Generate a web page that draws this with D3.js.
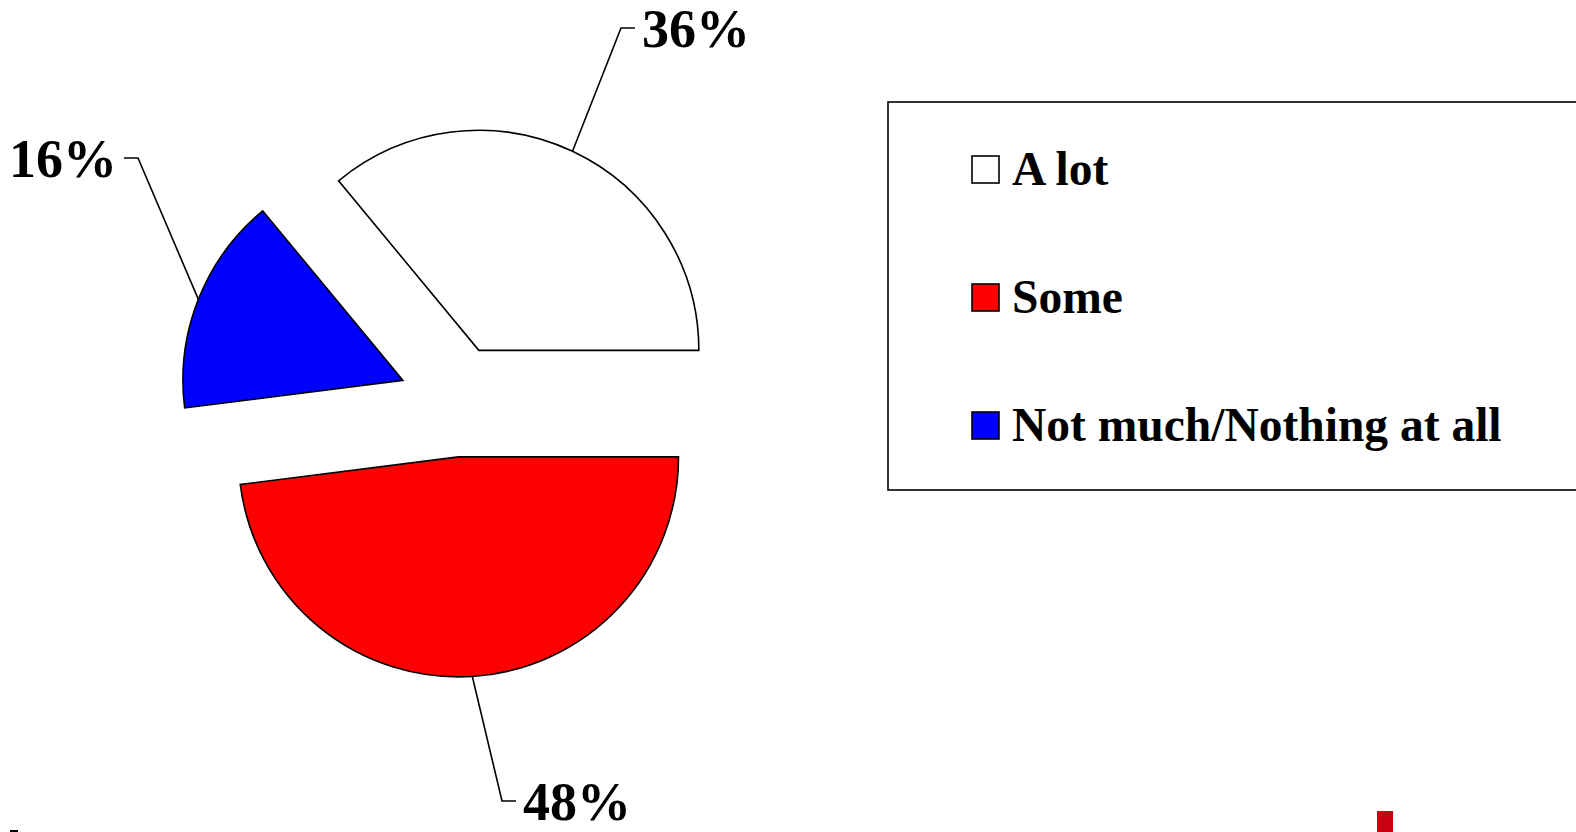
<!DOCTYPE html>
<html>
<head>
<meta charset="utf-8">
<script src="https://cdn.jsdelivr.net/npm/d3@7"></script>
<style>
  html, body { margin: 0; padding: 0; background: #fff; overflow: hidden; }
  svg text { font-family: "Liberation Serif", "Times New Roman", serif; font-weight: bold; fill: #000; }
</style>
</head>
<body>
<div id="chart"></div>
<script>
// data
const categories = ["A lot", "Some", "Not much/Nothing at all"];
const values = [36, 48, 16];
const labels = ["36%", "48%", "16%"];
const colors = ["#ffffff", "#ff0000", "#0000ff"];

// where each leader line bends before reaching its label (layout only)
const labelElbows = [
    { x: 621, y: 28, side: 1 },
    { x: 502, y: 801, side: 1 },
    { x: 138, y: 158, side: -1 }
];

const width = 1576, height = 832;
const cx = 455, cy = 401, radius = 220, explode = 56;

const svg = d3.select("#chart")
    .append("svg")
    .attr("width", width)
    .attr("height", height)
    .attr("viewBox", `0 0 ${width} ${height}`);

const total = d3.sum(values);
const start = Math.PI / 2 - 2 * Math.PI * values[0] / total;

const pie = d3.pie()
    .sort(null)
    .value(d => d)
    .startAngle(start)
    .endAngle(start + 2 * Math.PI);

const arc = d3.arc().innerRadius(0).outerRadius(radius);
const arcs = pie(values);

function offsetOf(a) {
    const mid = (a.startAngle + a.endAngle) / 2;
    return [Math.sin(mid) * explode, -Math.cos(mid) * explode];
}

// slices
svg.selectAll(".slice")
    .data(arcs)
    .enter().append("path")
    .attr("class", "slice")
    .attr("d", arc)
    .attr("transform", d => {
        const [ox, oy] = offsetOf(d);
        return `translate(${cx + ox},${cy + oy})`;
    })
    .attr("fill", (d, i) => colors[i])
    .attr("stroke", "#000")
    .attr("stroke-width", 1.6)
    .attr("stroke-linejoin", "miter");

// leader lines + labels
arcs.forEach((a, i) => {
    const mid = (a.startAngle + a.endAngle) / 2;
    const [ox, oy] = offsetOf(a);
    const sx = cx + ox + Math.sin(mid) * radius;
    const sy = cy + oy - Math.cos(mid) * radius;
    const e = labelElbows[i];
    const hx = e.x + e.side * 14;

    svg.append("polyline")
        .attr("points", `${sx},${sy} ${e.x},${e.y} ${hx},${e.y}`)
        .attr("fill", "none")
        .attr("stroke", "#000")
        .attr("stroke-width", 1.6);

    svg.append("text")
        .attr("x", hx + e.side * 7)
        .attr("y", e.y + 19)
        .attr("text-anchor", e.side > 0 ? "start" : "end")
        .style("font-size", "54px")
        .text(labels[i]);
});

// legend
svg.append("rect")
    .attr("x", 888)
    .attr("y", 102)
    .attr("width", 720)
    .attr("height", 388)
    .attr("fill", "none")
    .attr("stroke", "#000")
    .attr("stroke-width", 1.6);

const legend = svg.selectAll(".legend-item")
    .data(categories)
    .enter().append("g")
    .attr("class", "legend-item")
    .attr("transform", (d, i) => `translate(0,${i * 128})`);

legend.append("rect")
    .attr("x", 972)
    .attr("y", 156)
    .attr("width", 27)
    .attr("height", 27)
    .attr("fill", (d, i) => colors[i])
    .attr("stroke", "#000")
    .attr("stroke-width", 1.6);

legend.append("text")
    .attr("x", 1012)
    .attr("y", 185)
    .style("font-size", "47.5px")
    .text(d => d);

// cropped bits at the bottom edge of the slide
svg.append("rect")
    .attr("x", 1377).attr("y", 811)
    .attr("width", 16).attr("height", 21)
    .attr("fill", "#c8000f");
svg.append("rect")
    .attr("x", 10).attr("y", 830)
    .attr("width", 8).attr("height", 2)
    .attr("fill", "#000");
</script>
</body>
</html>
